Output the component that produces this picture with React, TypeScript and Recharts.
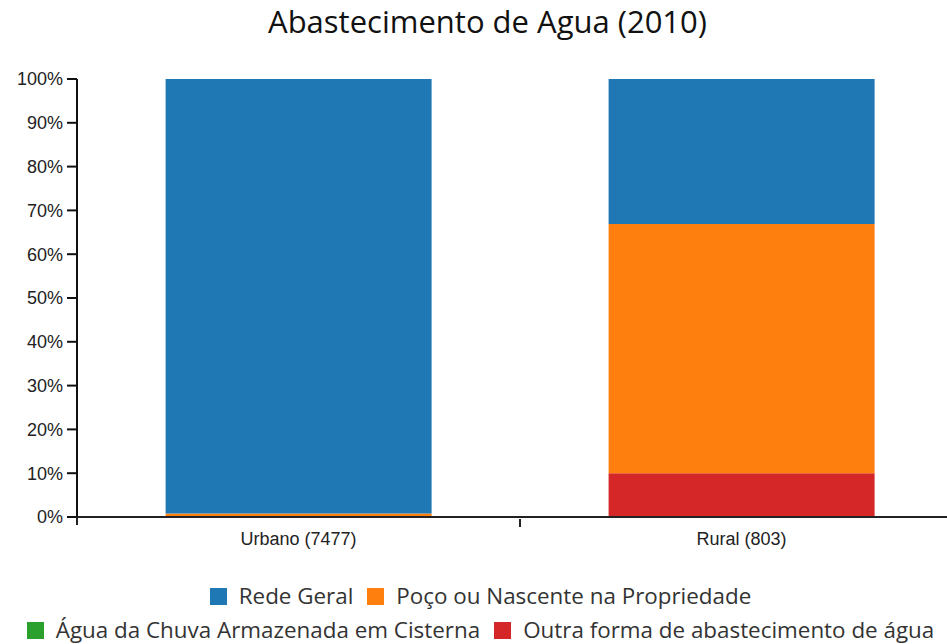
import { BarChart, Bar, XAxis, YAxis } from 'recharts';

// categories (com total de domicílios)
const CATEGORIES = ['Urbano (7477)', 'Rural (803)'];

// percentuais por categoria
const REDE_GERAL = [99.2, 33.1];
const POCO = [0.8, 56.9];
const CHUVA = [0, 0];
const OUTRA = [0, 10.0];

const Y_TICKS = [0, 10, 20, 30, 40, 50, 60, 70, 80, 90, 100];

const SERIES = [
    { key: 'rede', name: 'Rede Geral', color: '#1f77b4', values: REDE_GERAL },
    { key: 'poco', name: 'Poço ou Nascente na Propriedade', color: '#ff7f0e', values: POCO },
    { key: 'chuva', name: 'Água da Chuva Armazenada em Cisterna', color: '#2ca02c', values: CHUVA },
    { key: 'outra', name: 'Outra forma de abastecimento de água', color: '#d62728', values: OUTRA },
];

const data = CATEGORIES.map((name, i) => {
    const row: any = { name };
    SERIES.forEach((s) => { row[s.key] = s.values[i]; });
    return row;
});

const WIDTH = 947;
const CHART_W = 963; // plot area runs past the right edge, as in the original
const Y_AXIS_W = 77;
const BAND = (CHART_W - Y_AXIS_W) / CATEGORIES.length;

function XTick(props: any) {
    const { x, y, payload, index } = props;
    return (
        <g>
            {index === 0 && (
                <line x1={x + BAND / 2} x2={x + BAND / 2} y1={y - 6} y2={y + 2} stroke="#222" strokeWidth={2} />
            )}
            <text x={x} y={y + 20} textAnchor="middle" fill="#222" fontSize={18} fontFamily="Liberation Sans, Arial, sans-serif">
                {payload.value}
            </text>
        </g>
    );
}

const legendRows = [SERIES.slice(0, 2), SERIES.slice(2, 4)];

export default function App() {
    return (
        <div style={{ position: 'absolute', left: 0, top: 0, width: WIDTH, height: 644, overflow: 'hidden', background: '#fff', fontFamily: "'Open Sans', sans-serif" }}>
            <div style={{ position: 'absolute', top: 0, left: 0, width: 975, textAlign: 'center', fontSize: 31, color: '#111' }}>
                Abastecimento de Agua (2010)
            </div>

            <BarChart
                width={CHART_W}
                height={560}
                data={data}
                margin={{ top: 79, right: 0, left: 0, bottom: 0 }}
                barCategoryGap="20%"
            >
                <XAxis
                    dataKey="name"
                    height={43}
                    tickLine={false}
                    stroke="#222"
                    strokeWidth={2}
                    tick={<XTick />}
                    interval={0}
                />
                <YAxis
                    width={Y_AXIS_W}
                    domain={[0, 100]}
                    ticks={Y_TICKS}
                    tickFormatter={(v) => `${v}%`}
                    tickSize={10}
                    tickMargin={4}
                    stroke="#111"
                    strokeWidth={2}
                    tick={{ fill: '#222', fontSize: 18, fontFamily: 'Liberation Sans, Arial, sans-serif' }}
                />
                {/* empilhamento de baixo para cima: inverso da legenda */}
                {[...SERIES].reverse().map((s) => (
                    <Bar key={s.key} dataKey={s.key} name={s.name} stackId="a" fill={s.color} isAnimationActive={false} />
                ))}
            </BarChart>

            {/* y-axis outer tick below zero */}
            <div style={{ position: 'absolute', left: 76, top: 517, width: 2, height: 8, background: '#222' }} />

            <div style={{ position: 'absolute', top: 579, left: 14, width: WIDTH }}>
                {legendRows.map((row, r) => (
                    <div key={r} style={{ display: 'flex', justifyContent: 'center', height: 34 }}>
                        {row.map((s) => (
                            <div key={s.key} style={{ display: 'flex', alignItems: 'center', marginRight: 14 }}>
                                <span style={{ width: 17, height: 17, background: s.color, display: 'inline-block', marginRight: 12 }} />
                                <span style={{ fontSize: 22.4, color: '#333', lineHeight: '26px', whiteSpace: 'nowrap' }}>{s.name}</span>
                            </div>
                        ))}
                    </div>
                ))}
            </div>
        </div>
    );
}
